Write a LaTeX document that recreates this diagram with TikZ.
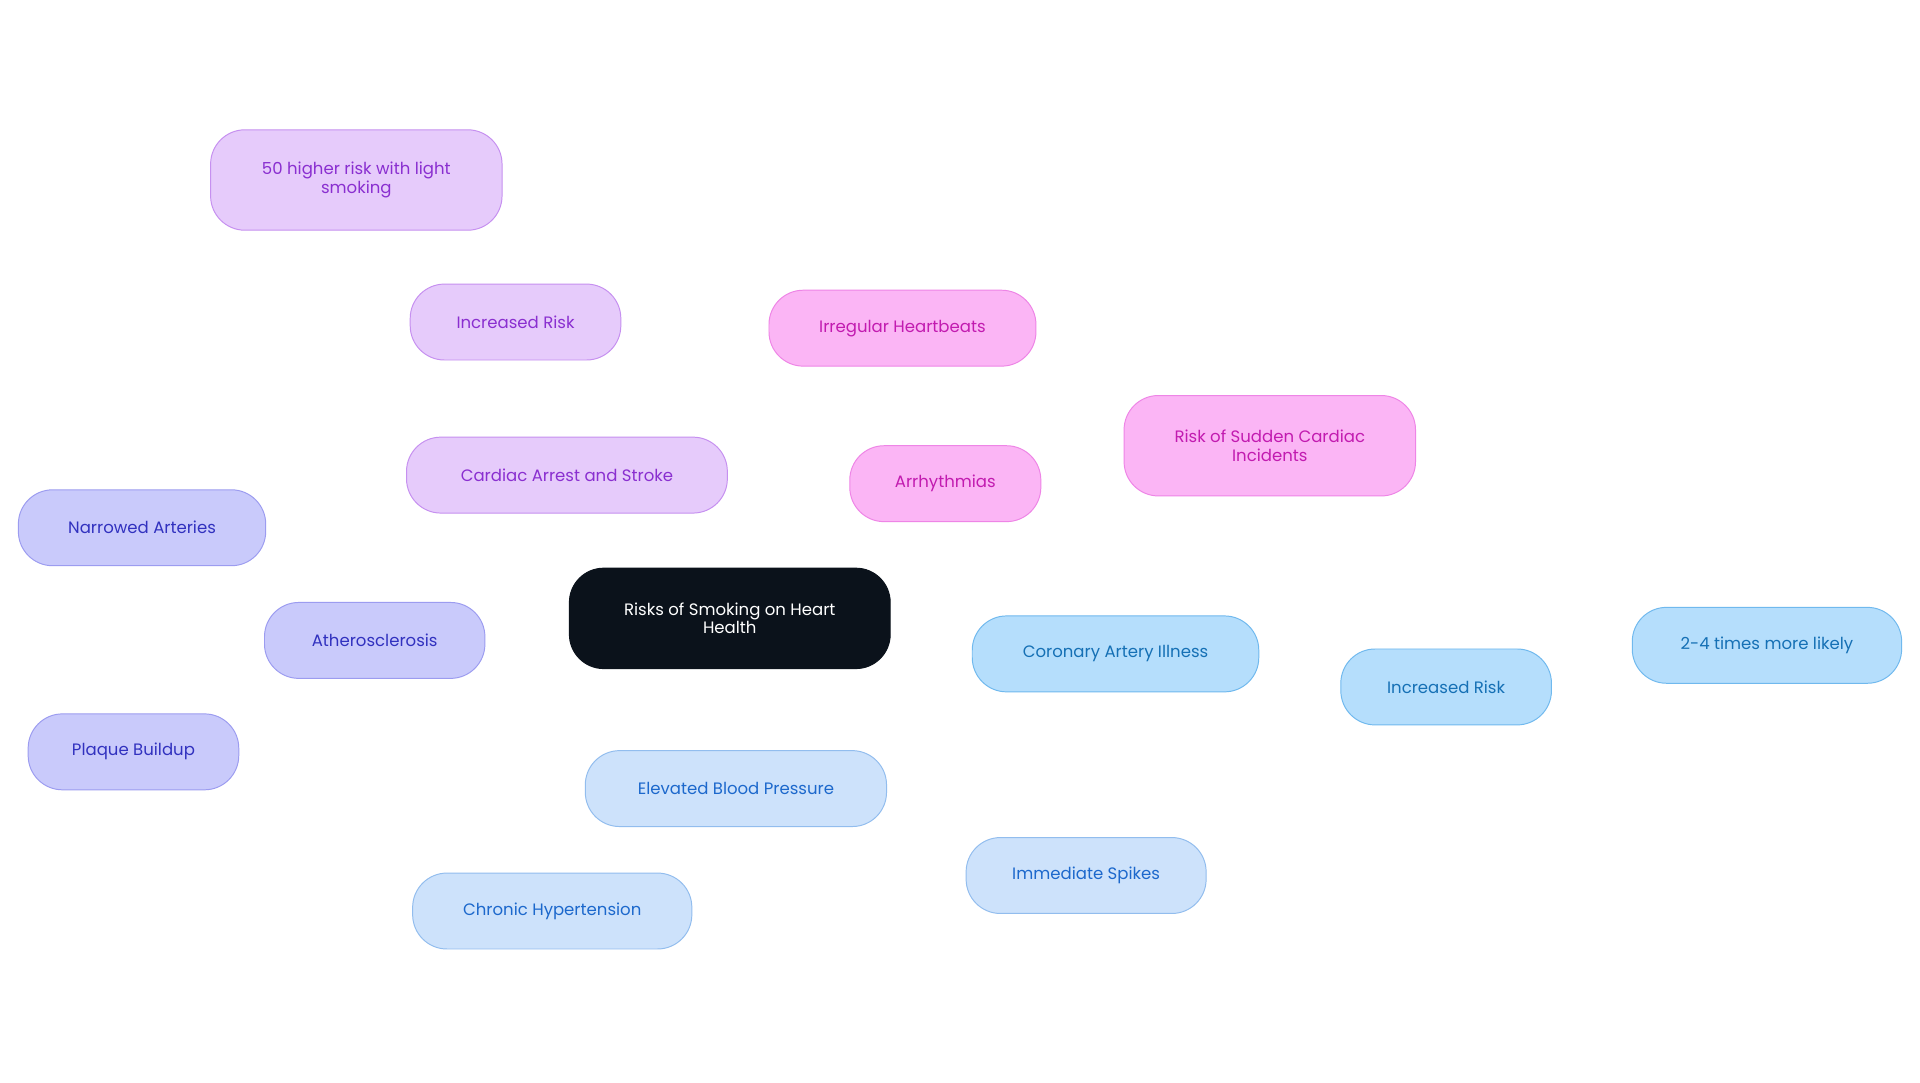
\documentclass[tikz,border=0pt]{standalone}
\usepackage{fontspec}
\setmainfont{Poppins}
\usetikzlibrary{backgrounds}
\definecolor{pF}{HTML}{E6CBFB}\definecolor{pD}{HTML}{C690F0}\definecolor{pT}{HTML}{8A2FD0}
\definecolor{kF}{HTML}{FBB5F5}\definecolor{kD}{HTML}{EE85E6}\definecolor{kT}{HTML}{C21BB0}
\definecolor{lF}{HTML}{C9CAFB}\definecolor{lD}{HTML}{9C9CF0}\definecolor{lT}{HTML}{3131BF}
\definecolor{eF}{HTML}{CDE2FB}\definecolor{eD}{HTML}{92BDEE}\definecolor{eT}{HTML}{1C68CC}
\definecolor{cF}{HTML}{B5DEFC}\definecolor{cD}{HTML}{70B9EE}\definecolor{cT}{HTML}{1570B5}
\definecolor{mF}{HTML}{0B121B}
\tikzset{
 base/.style={rounded corners=28pt,minimum height=62pt,align=center,font=\fontsize{13.5}{15}\selectfont,line width=0.8pt},
 pn/.style={base,fill=pF,draw=pD,text=pT},
 kn/.style={base,fill=kF,draw=kD,text=kT},
 ln/.style={base,fill=lF,draw=lD,text=lT},
 en/.style={base,fill=eF,draw=eD,text=eT},
 cn/.style={base,fill=cF,draw=cD,text=cT},
 pe/.style={draw=pD,line width=1.5pt},
 ke/.style={draw=kD,line width=1.5pt},
 le/.style={draw=lD,line width=1.5pt},
 ee/.style={draw=eD,line width=1.5pt},
 ce/.style={draw=cD,line width=1.5pt},
}
\begin{document}
\begin{tikzpicture}[x=1pt,y=-1pt]
\useasboundingbox[fill=white] (0,0) rectangle (1568,884);
\node[base,fill=mF,draw=mF,text=white,minimum width=262pt,minimum height=82pt] (c) at (596,505) {Risks of Smoking on Heart\\Health};
\node[pn,minimum width=262pt] (ca) at (463,388) {Cardiac Arrest and Stroke};
\node[pn,minimum width=172pt] (ir1) at (421,263) {Increased Risk};
\node[pn,minimum width=238pt,minimum height=82pt] (fifty) at (291,147) {50 higher risk with light\\smoking};
\node[kn,minimum width=156pt] (ar) at (772,395) {Arrhythmias};
\node[kn,minimum width=218pt] (irr) at (737,268) {Irregular Heartbeats};
\node[kn,minimum width=238pt,minimum height=82pt] (sud) at (1037,364) {Risk of Sudden Cardiac\\Incidents};
\node[ln,minimum width=180pt] (ath) at (306,523) {Atherosclerosis};
\node[ln,minimum width=202pt] (nar) at (116,431) {Narrowed Arteries};
\node[ln,minimum width=172pt] (pla) at (109,614) {Plaque Buildup};
\node[en,minimum width=246pt] (ebp) at (601,644) {Elevated Blood Pressure};
\node[en,minimum width=228pt] (chr) at (451,744) {Chronic Hypertension};
\node[en,minimum width=196pt] (imm) at (887,715) {Immediate Spikes};
\node[cn,minimum width=234pt] (cor) at (911,534) {Coronary Artery Illness};
\node[cn,minimum width=172pt] (ir2) at (1181,561) {Increased Risk};
\node[cn,minimum width=220pt] (two) at (1443,527) {2-4 times more likely};
\begin{scope}[on background layer]
\draw[pe] (c) -- (ca); \draw[pe] (ca) -- (ir1); \draw[pe] (ir1) -- (fifty);
\draw[ke] (c) -- (ar); \draw[ke] (ar) -- (irr); \draw[ke] (ar) -- (sud);
\draw[le] (c) -- (ath); \draw[le] (ath) -- (nar); \draw[le] (ath) -- (pla);
\draw[ee] (c) -- (ebp); \draw[ee] (ebp) -- (chr); \draw[ee] (ebp) -- (imm);
\draw[ce] (c) -- (cor); \draw[ce] (cor) -- (ir2); \draw[ce] (ir2) -- (two);
\end{scope}
\end{tikzpicture}
\end{document}
